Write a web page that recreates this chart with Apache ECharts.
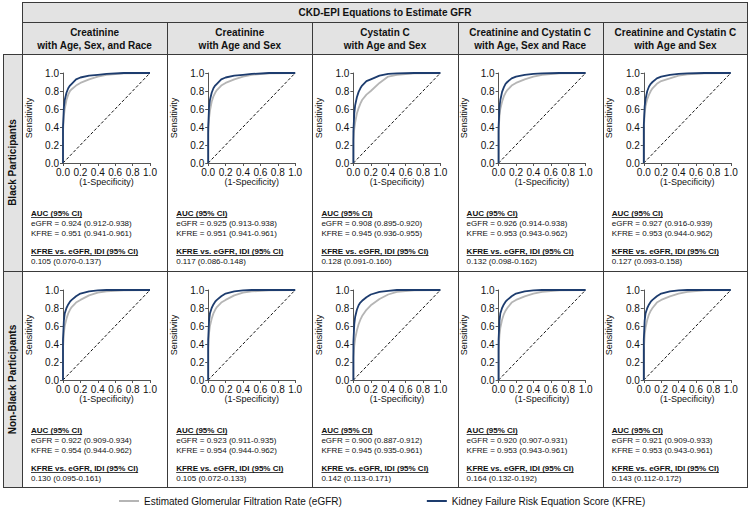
<!DOCTYPE html>
<html>
<head>
<meta charset="utf-8">
<script src="https://cdn.jsdelivr.net/npm/echarts@6/dist/echarts.min.js"></script>
<style>
  html, body { margin: 0; padding: 0; background: #fff; }
  #wrap { position: relative; width: 750px; height: 511px; }
  #table, #chart, #labels { position: absolute; left: 0; top: 0; width: 750px; height: 511px; }
  #labels { pointer-events: none; }
</style>
</head>
<body>
<div id="wrap">
  <div id="table"></div>
  <div id="chart"></div>
  <div id="labels"></div>
</div>
<script>
// table headers
const tableTitle = 'CKD-EPI Equations to Estimate GFR';
const columnTitles = [
  ['Creatinine', 'with Age, Sex, and Race'],
  ['Creatinine', 'with Age and Sex'],
  ['Cystatin C', 'with Age and Sex'],
  ['Creatinine and Cystatin C', 'with Age, Sex and Race'],
  ['Creatinine and Cystatin C', 'with Age and Sex']
];
const rowTitles = ['Black Participants', 'Non-Black Participants'];
const seriesNames = ['Estimated Glomerular Filtration Rate (eGFR)', 'Kidney Failure Risk Equation Score (KFRE)'];
const sensitivityTicks = [0, 0.2, 0.4, 0.6, 0.8, 1.0];

// ROC points: false positive rate (1-specificity) shared by all curves
const fprPoints = [0, 0, 0.01, 0.02, 0.04, 0.06, 0.08, 0.1, 0.15, 0.2, 0.3, 0.4, 0.5, 0.7, 1];

// sensitivity, black participants (one array per column)
const egfrBlack = [
  [0, 0.35, 0.52, 0.60, 0.70, 0.76, 0.80, 0.82, 0.86, 0.89, 0.93, 0.96, 0.98, 0.995, 1],
  [0, 0.33, 0.50, 0.58, 0.68, 0.74, 0.78, 0.81, 0.86, 0.89, 0.93, 0.96, 0.98, 0.995, 1],
  [0, 0.25, 0.38, 0.45, 0.55, 0.61, 0.66, 0.70, 0.76, 0.80, 0.89, 0.96, 0.98, 0.995, 1],
  [0, 0.35, 0.52, 0.60, 0.68, 0.74, 0.78, 0.81, 0.86, 0.89, 0.93, 0.96, 0.98, 0.995, 1],
  [0, 0.38, 0.55, 0.63, 0.71, 0.76, 0.80, 0.83, 0.88, 0.91, 0.94, 0.97, 0.985, 0.995, 1]
];
const kfreBlack = [
  [0, 0.40, 0.62, 0.70, 0.78, 0.83, 0.86, 0.88, 0.93, 0.95, 0.97, 0.98, 0.99, 1, 1],
  [0, 0.40, 0.62, 0.70, 0.78, 0.83, 0.86, 0.88, 0.93, 0.95, 0.97, 0.98, 0.99, 1, 1],
  [0, 0.35, 0.55, 0.64, 0.73, 0.79, 0.83, 0.86, 0.91, 0.93, 0.97, 0.99, 0.995, 1, 1],
  [0, 0.40, 0.62, 0.70, 0.79, 0.84, 0.88, 0.90, 0.94, 0.96, 0.98, 0.99, 0.995, 1, 1],
  [0, 0.42, 0.63, 0.71, 0.80, 0.85, 0.88, 0.90, 0.94, 0.96, 0.98, 0.99, 0.995, 1, 1]
];
// sensitivity, non-black participants
const egfrNonBlack = [
  [0, 0.35, 0.52, 0.60, 0.68, 0.74, 0.78, 0.81, 0.86, 0.89, 0.94, 0.97, 0.985, 0.995, 1],
  [0, 0.35, 0.52, 0.60, 0.68, 0.74, 0.78, 0.81, 0.86, 0.89, 0.94, 0.97, 0.985, 0.995, 1],
  [0, 0.25, 0.38, 0.46, 0.55, 0.62, 0.67, 0.71, 0.78, 0.83, 0.90, 0.95, 0.98, 0.995, 1],
  [0, 0.33, 0.50, 0.58, 0.67, 0.73, 0.77, 0.80, 0.86, 0.89, 0.93, 0.96, 0.98, 0.995, 1],
  [0, 0.33, 0.50, 0.58, 0.67, 0.73, 0.77, 0.80, 0.86, 0.89, 0.93, 0.96, 0.98, 0.995, 1]
];
const kfreNonBlack = [
  [0, 0.45, 0.66, 0.74, 0.80, 0.84, 0.87, 0.89, 0.93, 0.96, 0.985, 0.995, 1, 1, 1],
  [0, 0.45, 0.66, 0.74, 0.80, 0.84, 0.87, 0.89, 0.93, 0.96, 0.985, 0.995, 1, 1, 1],
  [0, 0.42, 0.62, 0.70, 0.78, 0.83, 0.86, 0.88, 0.92, 0.95, 0.98, 0.99, 1, 1, 1],
  [0, 0.45, 0.66, 0.74, 0.80, 0.84, 0.87, 0.89, 0.93, 0.96, 0.985, 0.995, 1, 1, 1],
  [0, 0.45, 0.66, 0.74, 0.80, 0.84, 0.87, 0.89, 0.93, 0.96, 0.985, 0.995, 1, 1, 1]
];

// AUC and IDI text
const aucEgfrBlack = ['0.924 (0.912-0.938)', '0.925 (0.913-0.938)', '0.908 (0.895-0.920)', '0.926 (0.914-0.938)', '0.927 (0.916-0.939)'];
const aucKfreBlack = ['0.951 (0.941-0.961)', '0.951 (0.941-0.961)', '0.945 (0.936-0.955)', '0.953 (0.943-0.962)', '0.953 (0.944-0.962)'];
const idiBlack = ['0.105 (0.070-0.137)', '0.117 (0.086-0.148)', '0.128 (0.091-0.160)', '0.132 (0.098-0.162)', '0.127 (0.093-0.158)'];
const aucEgfrNonBlack = ['0.922 (0.909-0.934)', '0.923 (0.911-0.935)', '0.900 (0.887-0.912)', '0.920 (0.907-0.931)', '0.921 (0.909-0.933)'];
const aucKfreNonBlack = ['0.954 (0.944-0.962)', '0.954 (0.944-0.962)', '0.945 (0.935-0.961)', '0.953 (0.943-0.961)', '0.953 (0.943-0.961)'];
const idiNonBlack = ['0.130 (0.095-0.161)', '0.105 (0.072-0.133)', '0.142 (0.113-0.171)', '0.164 (0.132-0.192)', '0.143 (0.112-0.172)'];

const FONT = '"Liberation Sans", Arial, sans-serif';
const GRAY = '#b5b5b5';
const BLUE = '#1d3c6e';
const LINE = '#3a3a3a';
const FILL = '#e3e3e3';

const colX = i => 22 + i * 145.2; // column left edges
const rowTop = [54, 271];
const rows = [
  { egfr: egfrBlack, kfre: kfreBlack, aucE: aucEgfrBlack, aucK: aucKfreBlack, idi: idiBlack },
  { egfr: egfrNonBlack, kfre: kfreNonBlack, aucE: aucEgfrNonBlack, aucK: aucKfreNonBlack, idi: idiNonBlack }
];

const measureCtx = document.createElement('canvas').getContext('2d');
function textWidth(str, font) { measureCtx.font = font; return measureCtx.measureText(str).width; }

function txt(x, y, text, font, align, extra) {
  return Object.assign({
    type: 'text', x: x, y: y, z: 10,
    style: { text: text, font: font, fill: '#111', textAlign: align || 'left', textVerticalAlign: 'middle' }
  }, extra || {});
}
function hline(x1, x2, y) {
  return { type: 'line', z: 9, shape: { x1: x1, y1: y, x2: x2, y2: y }, style: { stroke: LINE, lineWidth: 1 } };
}
function vline(x, y1, y2) {
  return { type: 'line', z: 9, shape: { x1: x, y1: y1, x2: x, y2: y2 }, style: { stroke: LINE, lineWidth: 1 } };
}

// ---- table layer: cells, headers and statistics ----
const graphics = [];
graphics.push({ type: 'rect', z: 1, shape: { x: 22, y: 2, width: 726, height: 52 }, style: { fill: FILL } });
graphics.push({ type: 'rect', z: 1, shape: { x: 3, y: 54, width: 19, height: 433 }, style: { fill: FILL } });
graphics.push(hline(22, 748, 2.5));
graphics.push(hline(22, 748, 22.5));
graphics.push(hline(3, 748, 54.5));
graphics.push(hline(3, 748, 271.5));
graphics.push(hline(3, 748, 487.5));
graphics.push(vline(3.5, 54, 488));
graphics.push(vline(22.5, 2, 488));
graphics.push(vline(747.5, 2, 488));
for (let c = 1; c < 5; c++) graphics.push(vline(Math.round(colX(c)) + 0.5, 22, 488));

graphics.push(txt(385, 12.5, tableTitle, 'bold 10px ' + FONT, 'center'));
columnTitles.forEach((t, c) => {
  const cx = colX(c) + 72.6;
  graphics.push(txt(cx, 32, t[0], 'bold 10px ' + FONT, 'center'));
  graphics.push(txt(cx, 45, t[1], 'bold 10px ' + FONT, 'center'));
});
rowTitles.forEach((t, r) => {
  const cy = r === 0 ? 162.5 : 379.5;
  graphics.push(txt(12.5, cy, t, 'bold 10px ' + FONT, 'center', { rotation: Math.PI / 2 }));
});

const boldSmall = 'bold 8px ' + FONT;
const small = '8px ' + FONT;
function underlined(x, y, text) {
  graphics.push(txt(x, y, text, boldSmall, 'left'));
  const w = textWidth(text, boldSmall);
  graphics.push({ type: 'line', z: 10, shape: { x1: x, y1: y + 4.5, x2: x + w, y2: y + 4.5 }, style: { stroke: '#111', lineWidth: 0.8 } });
}
rows.forEach((row, r) => {
  const top = rowTop[r];
  for (let c = 0; c < 5; c++) {
    const tx = colX(c) + 9;
    underlined(tx, top + 159, 'AUC (95% CI)');
    graphics.push(txt(tx, top + 169, 'eGFR = ' + row.aucE[c], small, 'left'));
    graphics.push(txt(tx, top + 179, 'KFRE = ' + row.aucK[c], small, 'left'));
    underlined(tx, top + 197, 'KFRE vs. eGFR, IDI (95% CI)');
    graphics.push(txt(tx, top + 207, row.idi[c], small, 'left'));
  }
});

const tableChart = echarts.init(document.getElementById('table'), null, { renderer: 'svg', width: 750, height: 511 });
tableChart.setOption({ animation: false, graphic: graphics });

// ---- ROC plots layer ----
function makeAxis(idx, name, gap, showLabel) {
  return {
    gridIndex: idx, type: 'value', min: 0, max: 1, interval: 0.2,
    name: name, nameLocation: 'middle', nameGap: gap,
    nameTextStyle: { fontSize: 9, color: '#111', fontFamily: FONT },
    axisLine: { lineStyle: { color: '#555', width: 1 } },
    axisTick: { show: true, length: 3, lineStyle: { color: '#555' } },
    axisLabel: { show: showLabel, fontSize: 10, color: '#111', fontFamily: FONT, margin: 4, formatter: v => (+v).toFixed(1) },
    splitLine: { show: false }
  };
}

const grids = [], xAxes = [], yAxes = [], series = [];
rows.forEach((row, r) => {
  const top = rowTop[r];
  for (let c = 0; c < 5; c++) {
    const idx = r * 5 + c;
    grids.push({ left: colX(c) + 41, top: top + 19, width: 87, height: 90 });
    xAxes.push(makeAxis(idx, '(1-Specificity)', 14, true));
    // y tick labels are written on the top layer from this axis' scale (below)
    yAxes.push(makeAxis(idx, 'Sensitivity', 30, false));

    series.push({
      name: 'reference', type: 'line', xAxisIndex: idx, yAxisIndex: idx, symbol: 'none',
      data: [[0, 0], [1, 1]],
      lineStyle: { color: '#111', width: 1, type: [3, 2] }
    });
    series.push({
      name: seriesNames[0], type: 'line', xAxisIndex: idx, yAxisIndex: idx, symbol: 'none',
      data: fprPoints.map((x, i) => [x, row.egfr[c][i]]),
      lineStyle: { color: GRAY, width: 1.8 }, itemStyle: { color: GRAY }
    });
    series.push({
      name: seriesNames[1], type: 'line', xAxisIndex: idx, yAxisIndex: idx, symbol: 'none',
      data: fprPoints.map((x, i) => [x, row.kfre[c][i]]),
      lineStyle: { color: BLUE, width: 1.8 }, itemStyle: { color: BLUE }
    });
  }
});

const chart = echarts.init(document.getElementById('chart'), null, { renderer: 'svg', width: 750, height: 511 });
chart.setOption({
  animation: false,
  grid: grids,
  xAxis: xAxes,
  yAxis: yAxes,
  legend: {
    data: seriesNames,
    left: 114, top: 491,
    icon: 'rect', itemWidth: 20, itemHeight: 2, itemGap: 85,
    textStyle: { fontSize: 10, color: '#111', fontFamily: FONT }
  },
  series: series
});

// ---- y tick labels, placed through each grid's own scale ----
const labelGraphics = [];
for (let idx = 0; idx < grids.length; idx++) {
  sensitivityTicks.forEach(v => {
    const p = chart.convertToPixel({ gridIndex: idx }, [0, v]);
    labelGraphics.push({
      type: 'text', x: p[0] - 4, y: p[1],
      style: { text: v.toFixed(1), font: '10px ' + FONT, fill: '#111', textAlign: 'right', textVerticalAlign: 'middle' }
    });
  });
}
const labelChart = echarts.init(document.getElementById('labels'), null, { renderer: 'svg', width: 750, height: 511 });
labelChart.setOption({ animation: false, graphic: labelGraphics });
</script>
